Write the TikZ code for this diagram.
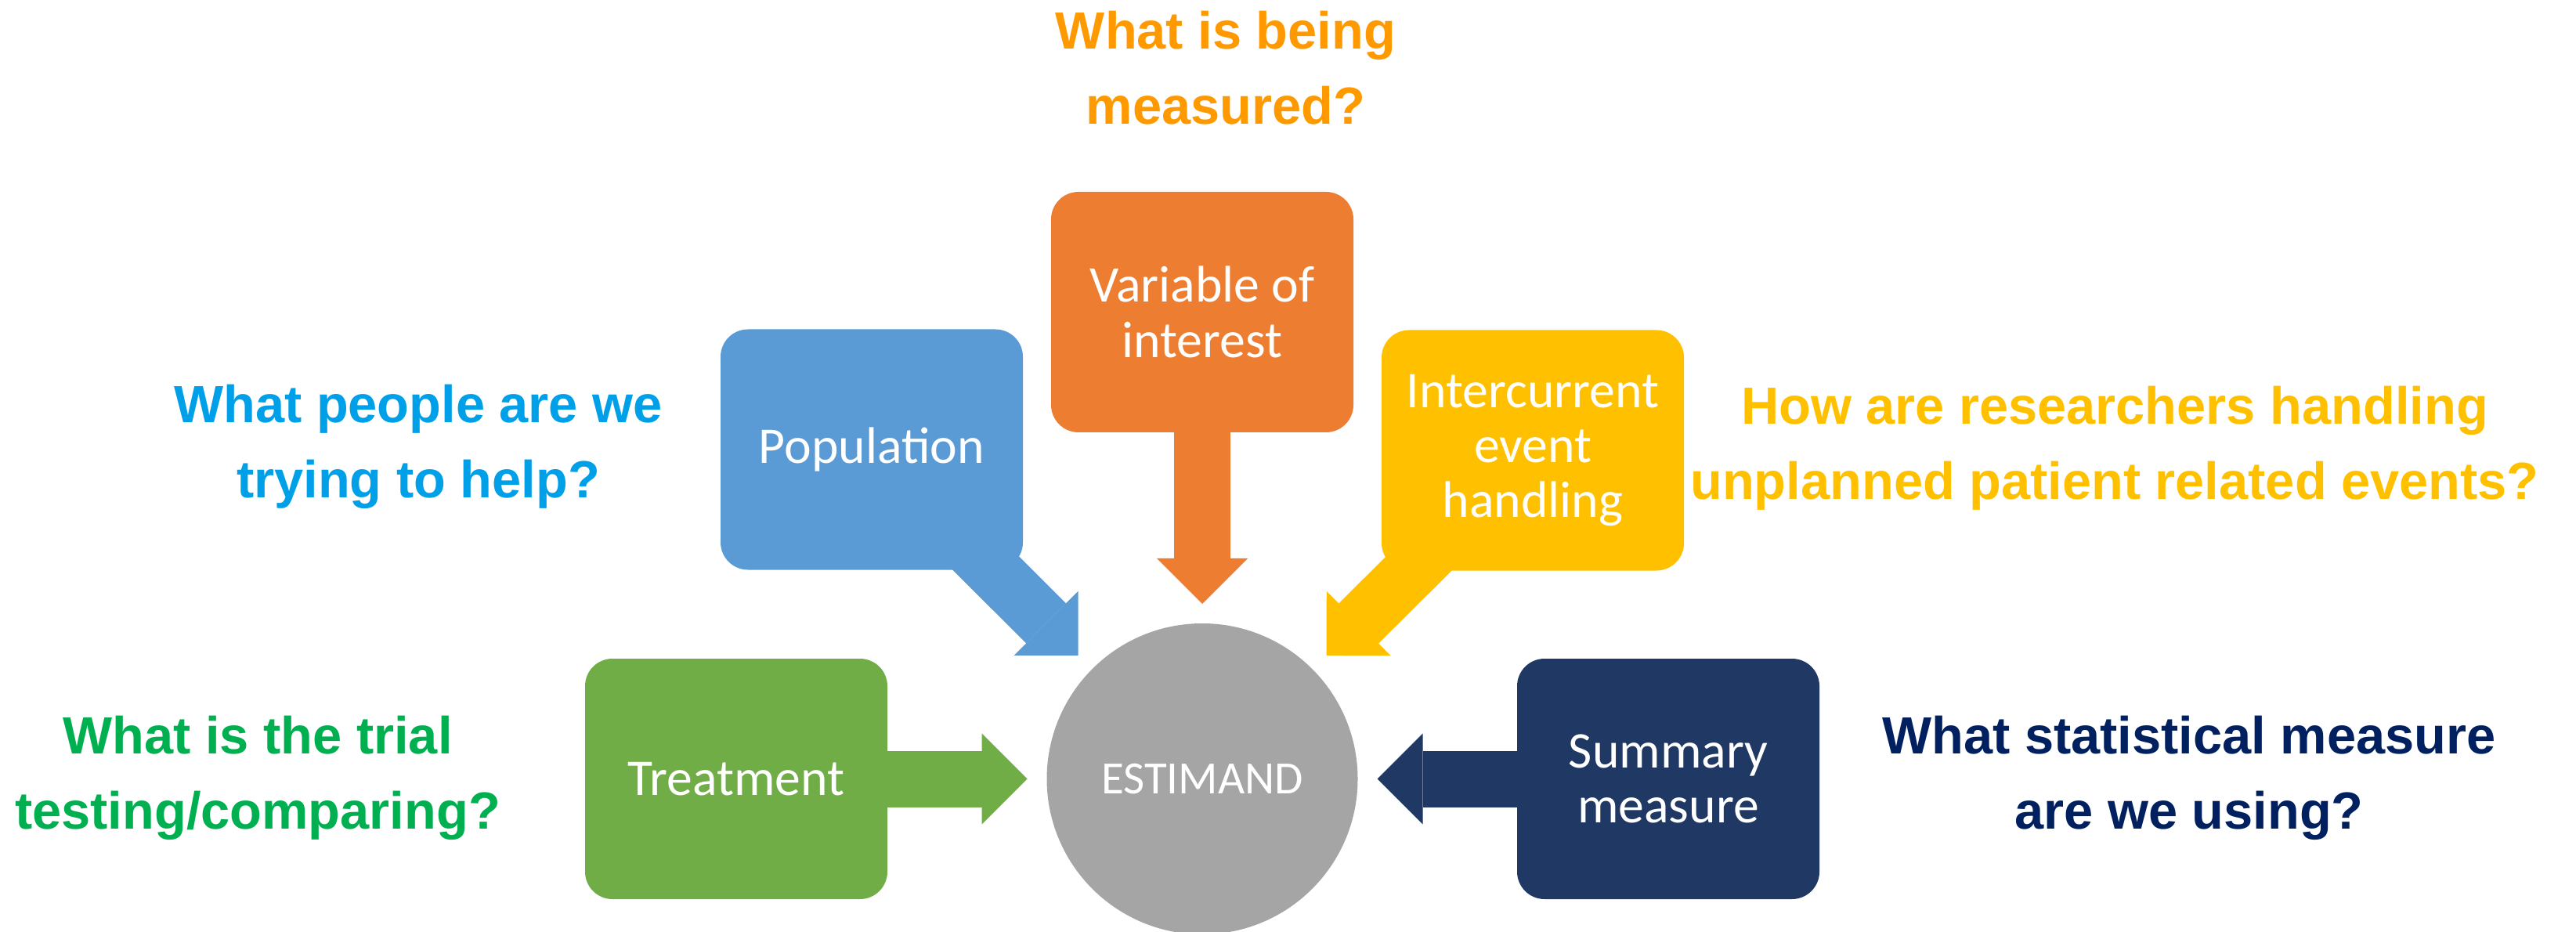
\documentclass[tikz,border=0pt]{standalone}
\usepackage{fontspec}
\setmainfont{Carlito}
\newfontfamily\askfont{Liberation Sans}
\usetikzlibrary{arrows.meta, backgrounds}

\definecolor{popblue}{HTML}{5B9BD5}
\definecolor{varorange}{HTML}{ED7D31}
\definecolor{icyellow}{HTML}{FFC000}
\definecolor{trtgreen}{HTML}{70AD47}
\definecolor{sumnavy}{HTML}{203864}
\definecolor{estgray}{HTML}{A5A5A5}
\definecolor{askblue}{HTML}{00A0E9}
\definecolor{askgreen}{HTML}{00B050}
\definecolor{askorange}{HTML}{FF9900}
\definecolor{askyellow}{HTML}{FFC000}
\definecolor{asknavy}{HTML}{002060}

\begin{document}
\begin{tikzpicture}[
	box/.style={rounded corners=0.35cm, minimum width=3.86cm, minimum height=3.07cm, outer sep=0pt, text=white, align=center, font=\fontsize{18.7}{20}\selectfont},
	ask/.style={align=center, inner sep=0pt, font=\askfont\bfseries\fontsize{19}{27.3}\selectfont},
	pointer/.style={line width=0.72cm, arrows={-Triangle[length=0.58cm, width=1.16cm, line width=0pt]}, shorten >=0.25cm}
]
	\useasboundingbox (0,0) rectangle (32.89,11.89);

	\node [circle, fill=estgray, minimum size=3.97cm, outer sep=0pt, text=white, font=\fontsize{16.8}{18}\selectfont] (est) at (15.35,1.945) {ESTIMAND};

	\node [box, fill=varorange] (var) at (15.35,7.905) {Variable of\\interest};
	\node [box, fill=popblue] (pop) at (11.13,6.15) {Population};
	\node [box, fill=icyellow] (icur) at (19.57,6.14) {Intercurrent\\event\\handling};
	\node [box, fill=trtgreen] (trt) at (9.40,1.945) {Treatment};
	\node [box, fill=sumnavy] (sum) at (21.30,1.945) {Summary\\measure};

	\node [ask, text=askorange] (q-var) at (15.65,11.02) {What is being\\measured?};
	\node [ask, text=askblue] (q-pop) at (5.34,6.19) {What people are we\\trying to help?};
	\node [ask, text=askyellow] (q-icur) at (27.00,6.17) {How are researchers handling\\unplanned patient related events?};
	\node [ask, text=askgreen] (q-trt) at (3.29,1.96) {What is the trial\\testing/comparing?};
	\node [ask, text=asknavy] (q-sum) at (27.95,1.96) {What statistical measure\\are we using?};

	% block arrows sit behind the boxes
	\begin{scope}[on background layer]
		\fill [white] (0,0) rectangle (32.89,11.89);
		\draw [pointer, varorange] (var.center) -- (est);
		\draw [pointer, popblue] (pop.center) -- (est);
		\draw [pointer, icyellow] (icur.center) -- (est);
		\draw [pointer, trtgreen] (trt.center) -- (est);
		\draw [pointer, sumnavy] (sum.center) -- (est);
	\end{scope}
\end{tikzpicture}
\end{document}
